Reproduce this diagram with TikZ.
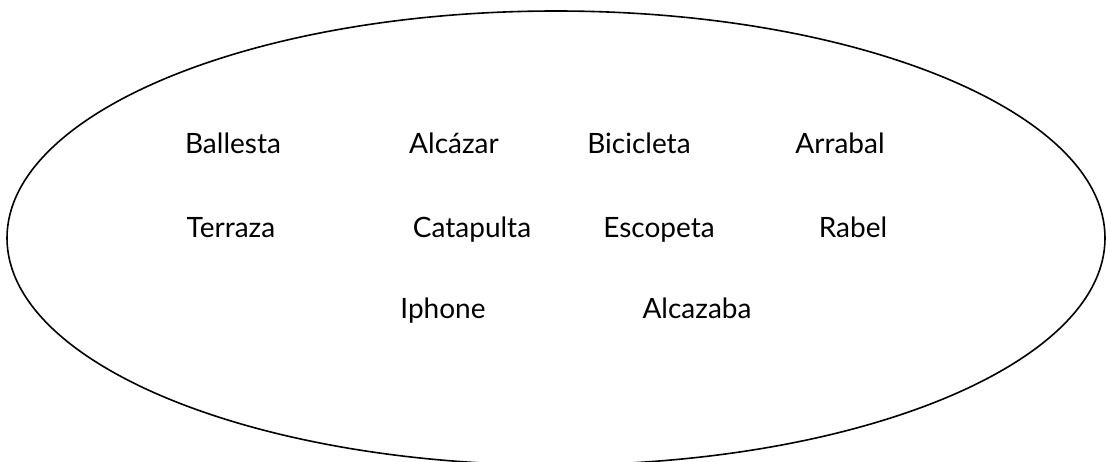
\documentclass[tikz,border=0pt]{standalone}
\usepackage{fontspec}
\setmainfont{Lato}
\usetikzlibrary{shapes.geometric}
\begin{document}
\begin{tikzpicture}[x=1pt,y=-1pt,
  word/.style={anchor=base, inner sep=0pt, font=\fontsize{28}{32}\selectfont},
  setshape/.style={draw, ellipse, line width=1.6pt, inner sep=0pt,
    minimum width=1098pt, minimum height=454pt}]
\useasboundingbox (0,0) rectangle (1106,461);
\clip (0,0) rectangle (1106,461);
\node[setshape] (set) at (556,238) {};
\node[word] (w1) at (233,153) {Ballesta};
\node[word] (w2) at (454,153) {Alcázar};
\node[word] (w3) at (639,153) {Bicicleta};
\node[word] (w4) at (840,153) {Arrabal};
\node[word] (w5) at (231,237) {Terraza};
\node[word] (w6) at (472,237) {Catapulta};
\node[word] (w7) at (659,237) {Escopeta};
\node[word] (w8) at (853,237) {Rabel};
\node[word] (w9) at (443,318) {Iphone};
\node[word] (w10) at (697,318) {Alcazaba};
\end{tikzpicture}
\end{document}
